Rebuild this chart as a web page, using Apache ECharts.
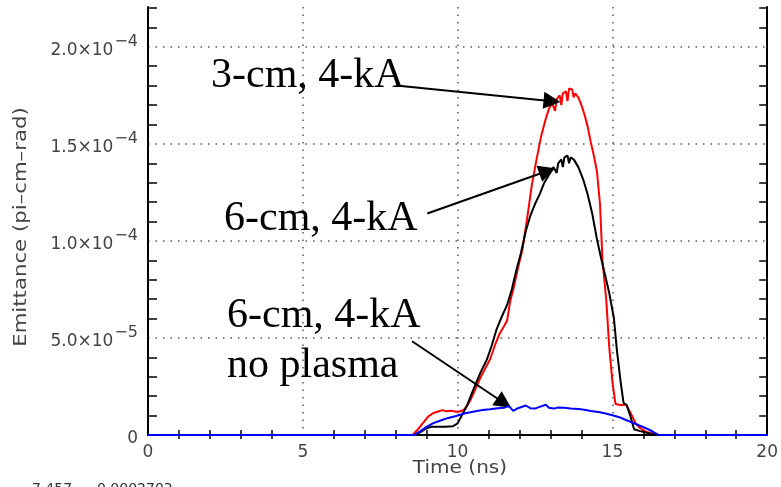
<!DOCTYPE html>
<html>
<head>
<meta charset="utf-8">
<script src="https://cdn.jsdelivr.net/npm/echarts@6/dist/echarts.min.js"></script>
<style>html,body{margin:0;padding:0;background:#fff;}#c{width:781px;height:487px;}</style>
</head>
<body>
<div id="c"></div>
<script>
// Emittance values are in units of 1e-5 pi-cm-rad; time in ns
var redT = [0, 8.55, 8.75, 8.9, 9.05, 9.2, 9.35, 9.5, 9.65, 9.8, 9.95, 10.1, 10.2, 10.3, 10.4, 10.5, 10.6, 10.75, 10.9, 11.05, 11.2, 11.35, 11.5, 11.6, 11.7, 11.8, 11.95, 12.1, 12.25, 12.4, 12.55, 12.7, 12.85, 12.95, 13.05, 13.15, 13.2, 13.3, 13.35, 13.4, 13.5, 13.55, 13.6, 13.7, 13.75, 13.8, 13.9, 14.0, 14.1, 14.2, 14.3, 14.4, 14.5, 14.6, 14.68, 14.8, 14.9, 15.0, 15.1, 15.25, 15.45, 15.6, 15.75, 15.9, 16.1, 16.5, 20];
var redV = [0, 0, 0.35, 0.65, 0.95, 1.12, 1.2, 1.28, 1.22, 1.25, 1.2, 1.22, 1.3, 1.5, 1.75, 2.1, 2.45, 3.0, 3.45, 3.9, 4.6, 5.2, 5.6, 5.9, 6.9, 7.5, 8.6, 9.6, 11.2, 12.9, 14.2, 15.4, 16.3, 16.8, 17.1, 16.7, 17.3, 17.5, 17.0, 17.6, 17.7, 17.2, 17.85, 17.8, 17.4, 17.6, 17.4, 17.0, 16.5, 15.9, 15.1, 14.4, 13.6, 11.9, 9.0, 7.0, 4.5, 2.75, 1.6, 1.55, 1.55, 1.1, 0.6, 0.35, 0.15, 0, 0];

var blackT = [0, 8.6, 8.8, 9.0, 9.15, 9.4, 9.6, 9.85, 10.0, 10.1, 10.2, 10.3, 10.45, 10.6, 10.75, 10.95, 11.1, 11.25, 11.4, 11.6, 11.75, 11.9, 12.05, 12.2, 12.35, 12.5, 12.65, 12.8, 12.95, 13.1, 13.2, 13.25, 13.35, 13.4, 13.45, 13.55, 13.6, 13.65, 13.75, 13.9, 14.05, 14.2, 14.35, 14.5, 14.65, 14.8, 14.9, 15.05, 15.15, 15.27, 15.36, 15.46, 15.59, 15.7, 15.9, 16.1, 16.4, 20];
var blackV = [0, 0, 0.15, 0.35, 0.42, 0.42, 0.42, 0.45, 0.6, 0.9, 1.2, 1.5, 2.1, 2.7, 3.25, 3.9, 4.6, 5.4, 6.0, 6.7, 7.5, 8.5, 9.4, 10.5, 11.3, 11.9, 12.4, 13.0, 13.4, 13.8, 13.5, 14.0, 14.2, 13.8, 14.3, 14.4, 14.0, 14.3, 14.2, 13.8, 13.2, 12.4, 11.4, 10.1, 9.0, 8.0, 7.3, 6.0, 4.3, 2.7, 1.65, 1.55, 0.93, 0.3, 0.2, 0.12, 0, 0];

var blueT = [0, 8.6, 8.8, 9.0, 9.2, 9.45, 9.7, 9.95, 10.25, 10.5, 10.8, 11.05, 11.3, 11.5, 11.65, 11.8, 11.95, 12.2, 12.35, 12.5, 12.65, 12.85, 12.95, 13.1, 13.25, 13.45, 13.65, 13.9, 14.1, 14.3, 14.55, 14.75, 15.0, 15.2, 15.4, 15.6, 15.85, 16.07, 16.3, 16.5, 20];
var blueV = [0, 0, 0.2, 0.42, 0.6, 0.75, 0.88, 0.98, 1.12, 1.2, 1.29, 1.33, 1.38, 1.4, 1.5, 1.24, 1.38, 1.52, 1.38, 1.36, 1.45, 1.56, 1.4, 1.36, 1.42, 1.4, 1.36, 1.34, 1.3, 1.24, 1.18, 1.12, 1.02, 0.93, 0.8, 0.67, 0.5, 0.36, 0.18, 0, 0];

var xTickValues = [0, 5, 10, 15, 20];
var xTickLabels = ['0', '5', '10', '15', '20'];
var yTickValues = [0, 5, 10, 15, 20];
var yTickMantissa = ['0', '5.0\u00d710', '1.0\u00d710', '1.5\u00d710', '2.0\u00d710'];
var yTickExponent = ['', '\u22125', '\u22124', '\u22124', '\u22124'];

var xAxisTitle = 'Time (ns)';
var yAxisTitle = 'Emittance (pi\u2013cm\u2013rad)';
var annotationTexts = ['3-cm, 4-kA', '6-cm, 4-kA', '6-cm, 4-kA', 'no plasma'];
var arrowStarts = [[8.02, 18.0], [9.02, 11.41], [8.53, 4.83]];
var arrowEnds = [[13.05, 17.2], [12.9, 13.6], [11.5, 1.65]];
var cornerTexts = ['7.457', '0.0002703'];

function pairs(t, v) { return t.map(function (x, i) { return [x, v[i]]; }); }

var chart = echarts.init(document.getElementById('c'), null, { renderer: 'canvas' });
var labelFont = 'DejaVu Sans';
var dotted = { color: '#555', width: 1.5, type: [1.5, 6] };

var option = {
  animation: false,
  backgroundColor: '#fff',
  grid: { left: 148, right: 12, top: 7, bottom: 52, containLabel: false },
  xAxis: [{
    type: 'value', min: 0, max: 20, interval: 5, position: 'bottom',
    axisLine: { show: true, onZero: false, lineStyle: { color: '#000', width: 2 } },
    axisTick: { show: false, inside: true },
    minorTick: { show: true, splitNumber: 5, length: 5, lineStyle: { color: '#000', width: 1.5 } },
    minorSplitLine: { show: false },
    splitLine: { show: true, showMinLine: false, showMaxLine: false, lineStyle: dotted },
    axisLabel: {
      margin: 9, fontFamily: labelFont, fontSize: 17, color: '#444',
      formatter: function (v) { var i = xTickValues.indexOf(v); return i >= 0 ? xTickLabels[i] : ''; }
    }
  }, {
    type: 'value', min: 0, max: 20, interval: 5, position: 'top',
    axisLine: { show: false },
    axisTick: { show: false, inside: true },
    minorTick: { show: true, splitNumber: 5, length: 4, lineStyle: { color: '#000', width: 1.5 } },
    splitLine: { show: false },
    axisLabel: { show: false }
  }],
  yAxis: [{
    type: 'value', min: 0, max: 22.05, interval: 5, position: 'left',
    axisLine: { show: true, onZero: false, lineStyle: { color: '#000', width: 2 } },
    axisTick: { show: false, inside: true },
    minorTick: { show: true, splitNumber: 5, length: 9, lineStyle: { color: '#000', width: 1.5 } },
    splitLine: { show: true, showMinLine: false, showMaxLine: false, lineStyle: dotted },
    axisLabel: {
      margin: 10, fontFamily: labelFont, color: '#444',
      formatter: function (v) {
        var i = yTickValues.indexOf(Math.round(v * 1000) / 1000);
        if (i < 0) return '';
        if (!yTickExponent[i]) return '{m|' + yTickMantissa[i] + '}';
        return '{m|' + yTickMantissa[i] + '}{e|' + yTickExponent[i] + '}';
      },
      rich: {
        m: { fontFamily: labelFont, fontSize: 17, color: '#444', padding: [8, 0, 0, 0] },
        e: { fontFamily: labelFont, fontSize: 16, color: '#444', padding: [0, 0, 10, 1] }
      }
    }
  }, {
    type: 'value', min: 0, max: 22.05, interval: 5, position: 'right',
    axisLine: { show: true, onZero: false, lineStyle: { color: '#000', width: 2 } },
    axisTick: { show: false, inside: true },
    minorTick: { show: true, splitNumber: 5, length: 8, lineStyle: { color: '#000', width: 1.5 } },
    splitLine: { show: false },
    axisLabel: { show: false }
  }],
  series: [{
    name: '3-cm, 4-kA', type: 'line', xAxisIndex: 0, yAxisIndex: 0,
    data: pairs(redT, redV), showSymbol: false, symbol: 'none',
    lineStyle: { color: '#ff0000', width: 2 }, z: 3
  }, {
    name: '6-cm, 4-kA', type: 'line', xAxisIndex: 0, yAxisIndex: 0,
    data: pairs(blackT, blackV), showSymbol: false, symbol: 'none',
    lineStyle: { color: '#000', width: 2 }, z: 4
  }, {
    name: '6-cm, 4-kA no plasma', type: 'line', xAxisIndex: 0, yAxisIndex: 0,
    data: pairs(blueT, blueV), showSymbol: false, symbol: 'none',
    lineStyle: { color: '#0000ff', width: 2 }, z: 5,
    markLine: {
      silent: true, symbol: ['none', 'triangle'], symbolSize: 17,
      label: { show: false },
      lineStyle: { color: '#000', width: 2, type: 'solid' },
      itemStyle: { color: '#000' },
      data: arrowStarts.map(function (s, i) { return [{ coord: s }, { coord: arrowEnds[i] }]; })
    }
  }],
  graphic: [
    { type: 'text', x: 22, y: 227, rotation: Math.PI / 2, scaleX: 1.25, style: { text: yAxisTitle, font: '17px "DejaVu Sans"', fill: '#444', align: 'center', verticalAlign: 'middle' } },
    { type: 'text', x: 460, y: 469, scaleX: 1.18, style: { text: xAxisTitle, font: '17px "DejaVu Sans"', fill: '#444', align: 'center', verticalAlign: 'middle' } },
    { type: 'text', x: 211, y: 76, style: { text: annotationTexts[0], font: '42px "Liberation Serif"', fill: '#000', verticalAlign: 'middle' }, z: 10 },
    { type: 'text', x: 224, y: 219, style: { text: annotationTexts[1], font: '42px "Liberation Serif"', fill: '#000', verticalAlign: 'middle' }, z: 10 },
    { type: 'text', x: 227, y: 316, style: { text: annotationTexts[2], font: '42px "Liberation Serif"', fill: '#000', verticalAlign: 'middle' }, z: 10 },
    { type: 'text', x: 227, y: 366, style: { text: annotationTexts[3], font: '42px "Liberation Serif"', fill: '#000', verticalAlign: 'middle' }, z: 10 },
    { type: 'text', x: 32, y: 482, style: { text: cornerTexts[0], font: '14px "DejaVu Sans"', fill: '#333', verticalAlign: 'top' } },
    { type: 'text', x: 97, y: 482, style: { text: cornerTexts[1], font: '14px "DejaVu Sans"', fill: '#333', verticalAlign: 'top' } }
  ]
};
chart.setOption(option);
</script>
</body>
</html>
